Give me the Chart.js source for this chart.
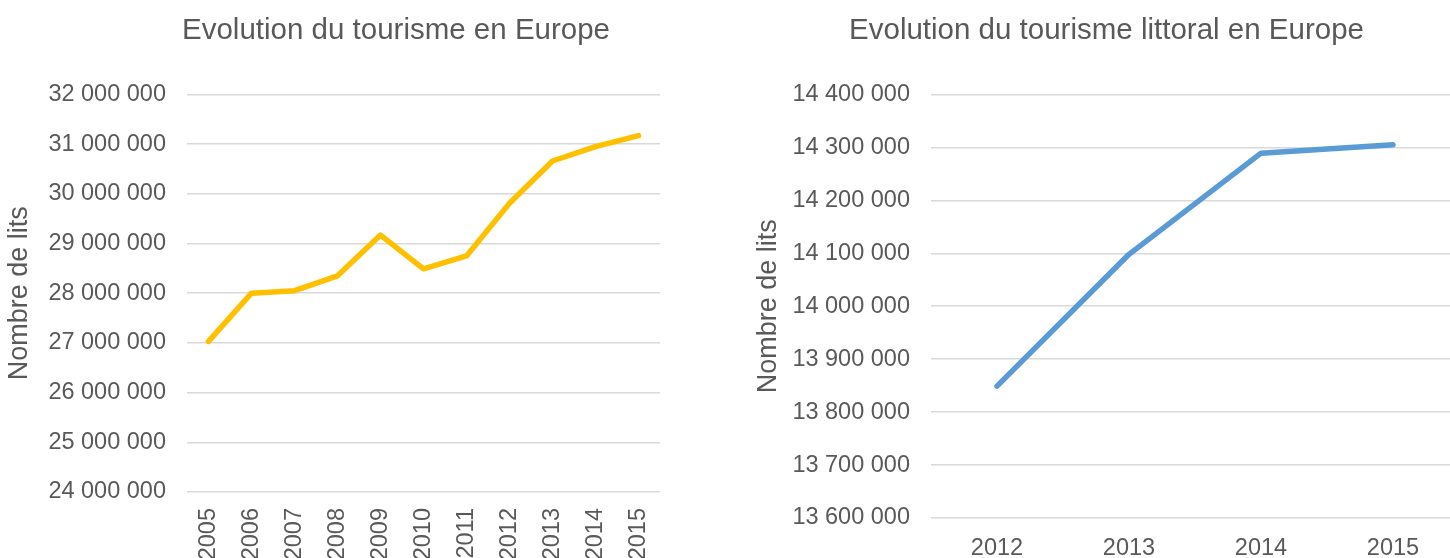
<!DOCTYPE html>
<html>
<head>
<meta charset="utf-8">
<script src="https://cdn.jsdelivr.net/npm/chart.js@4"></script>
<style>
  html, body { margin: 0; padding: 0; background: #fff; overflow: hidden; }
  #wrap { position: relative; width: 1450px; height: 558px; overflow: hidden; }
  canvas { position: absolute; top: 0; }
  #europeChart { left: 0; }
  #littoralChart { left: 740px; }
</style>
</head>
<body>
<div id="wrap">
  <canvas id="europeChart" width="792" height="558"></canvas>
  <canvas id="littoralChart" width="733" height="558"></canvas>
</div>
<script>
// données
const yearsEurope = ['2005', '2006', '2007', '2008', '2009', '2010', '2011', '2012', '2013', '2014', '2015'];
const bedsEurope = [27030000, 28000000, 28050000, 28350000, 29170000, 28490000, 28750000, 29810000, 30660000, 30950000, 31170000];
const rangeEurope = [24000000, 32000000, 1000000]; // min, max, pas

const yearsLittoral = ['2012', '2013', '2014', '2015'];
const bedsLittoral = [13849000, 14098000, 14289000, 14305000];
const rangeLittoral = [13600000, 14400000, 100000];

const textColor = '#595959';
const gridColor = '#d9d9d9';
const fontFamily = 'Arial, "Liberation Sans", sans-serif';

// 32000000 -> "32 000 000"
function formatNumber(v) {
    return String(Math.round(v)).replace(/\B(?=(\d{3})+(?!\d))/g, ' ');
}

function makeChart(id, opts) {
    return new Chart(document.getElementById(id), {
        type: 'line',
        data: {
            labels: opts.labels,
            datasets: [{
                data: opts.values,
                borderColor: opts.color,
                borderWidth: 5.5,
                borderCapStyle: 'round',
                borderJoinStyle: 'round',
                pointRadius: 0,
                tension: 0,
                fill: false
            }]
        },
        options: {
            responsive: false,
            animation: false,
            devicePixelRatio: 1,
            layout: { padding: 0 },
            plugins: {
                legend: { display: false },
                tooltip: { enabled: false },
                title: {
                    display: true,
                    text: opts.title,
                    color: textColor,
                    font: { family: fontFamily, size: 29.5, weight: 'normal' },
                    padding: { top: 13, bottom: 46 }
                }
            },
            scales: {
                x: {
                    offset: true,
                    grid: { display: false },
                    border: { display: false },
                    ticks: {
                        color: textColor,
                        font: { family: fontFamily, size: 23.5 },
                        autoSkip: false,
                        minRotation: opts.rotation,
                        maxRotation: opts.rotation,
                        padding: opts.xPad
                    },
                    afterFit: (scale) => { scale.height = opts.xHeight; }
                },
                y: {
                    min: opts.range[0],
                    max: opts.range[1],
                    grid: { color: gridColor, lineWidth: 1.5, drawTicks: false },
                    border: { display: false },
                    ticks: {
                        stepSize: opts.range[2],
                        color: textColor,
                        font: { family: fontFamily, size: 23.5 },
                        padding: 21,
                        callback: (v) => formatNumber(v)
                    },
                    title: {
                        display: true,
                        text: 'Nombre de lits',
                        color: textColor,
                        font: { family: fontFamily, size: 27 },
                        padding: { top: opts.titlePad, bottom: 0 }
                    },
                    afterFit: (scale) => { scale.width = opts.yWidth; }
                },
                // axe vide à droite : réserve la marge sans décentrer le titre
                marge: {
                    position: 'right',
                    grid: { display: false },
                    border: { display: false },
                    ticks: { display: false },
                    afterFit: (scale) => { scale.width = opts.padRight; }
                }
            }
        }
    });
}

makeChart('europeChart', {
    labels: yearsEurope,
    values: bedsEurope,
    range: rangeEurope,
    color: '#FFC000',
    title: 'Evolution du tourisme en Europe',
    padRight: 132,
    rotation: 90,
    xPad: 8,
    xHeight: 66,
    yWidth: 187,
    titlePad: 3
});

makeChart('littoralChart', {
    labels: yearsLittoral,
    values: bedsLittoral,
    range: rangeLittoral,
    color: '#5B9BD5',
    title: 'Evolution du tourisme littoral en Europe',
    padRight: 14,
    rotation: 0,
    xPad: 8,
    xHeight: 40,
    yWidth: 191,
    titlePad: 12
});
</script>
</body>
</html>
